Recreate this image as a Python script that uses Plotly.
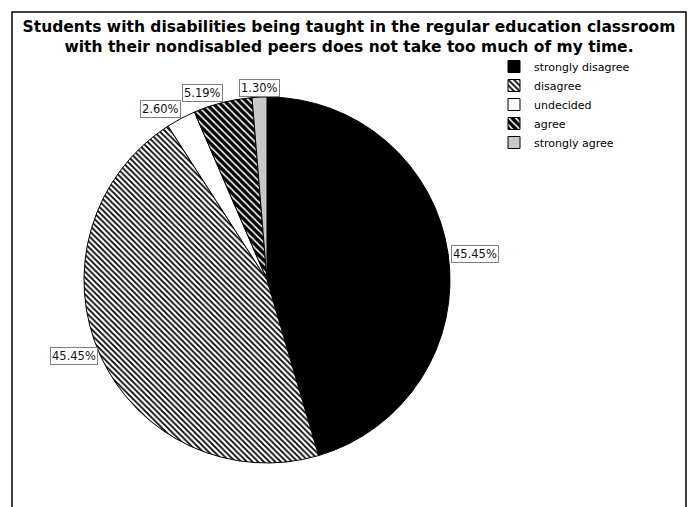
import math
import plotly.graph_objects as go

# Survey responses (percent of respondents)
categories = ["strongly disagree", "disagree", "undecided", "agree", "strongly agree"]
percents = [45.45, 45.45, 2.60, 5.19, 1.30]

title_lines = [
    "Students with disabilities being taught in the regular education classroom",
    "with their nondisabled peers does not take too much of my time.",
]

# Slice styling (fill, hatch)
fill_colors = ["#000000", "#ffffff", "#ffffff", "#000000", "#c8c8c8"]
hatch_shapes = ["", "\\", "", "\\", ""]
hatch_fg = ["#000000", "#000000", "#000000", "#ffffff", "#000000"]
hatch_size = [8, 4, 8, 5, 8]
hatch_solidity = [0.3, 0.45, 0.3, 0.3, 0.3]

# Page geometry (pixels)
W, H = 691, 507
ML, MR, MT, MB = 12, 5, 12, 0
PW, PH = W - ML - MR, H - MT - MB
CX, CY, R = 267, 280, 183  # pie centre and radius
LABEL_GAP = 3


def paper_x(px):
    return (px - ML) / PW


def paper_y(py):
    return (H - MB - py) / PH


fig = go.Figure()
fig.add_trace(go.Pie(
    labels=categories,
    values=percents,
    sort=False,
    direction="clockwise",
    rotation=0,
    textinfo="none",
    hoverinfo="label+percent",
    domain=dict(x=[paper_x(CX - R), paper_x(CX + R)],
                y=[paper_y(CY + R), paper_y(CY - R)]),
    marker=dict(
        colors=fill_colors,
        line=dict(color="#000000", width=1),
        pattern=dict(shape=hatch_shapes, fgcolor=hatch_fg, bgcolor=fill_colors,
                     size=hatch_size, solidity=hatch_solidity, fillmode="replace"),
    ),
))

# Boxed percentage labels at the rim of each slice
total = sum(percents)
cum = 0.0
annotations = []
for val in percents:
    theta = 2 * math.pi * (cum + val / 2) / total
    cum += val
    s, c = math.sin(theta), math.cos(theta)
    xanchor = "left" if s > 0.15 else ("right" if s < -0.15 else "center")
    yanchor = "bottom" if c > 0.5 else ("top" if c < -0.5 else "middle")
    gap = LABEL_GAP if yanchor == "middle" else 0
    ex, ey = CX + (R + gap) * s, CY - R * c
    annotations.append(dict(
        x=paper_x(ex), y=paper_y(ey), xref="paper", yref="paper",
        text=f"{val:.2f}%", showarrow=False,
        xanchor=xanchor, yanchor=yanchor,
        font=dict(family="DejaVu Sans", size=11.5, color="#111111"),
        bgcolor="#ffffff", bordercolor="#808080", borderwidth=1, borderpad=1,
    ))

fig.update_layout(
    width=W, height=H,
    margin=dict(l=ML, r=MR, t=MT, b=MB),
    paper_bgcolor="#ffffff",
    plot_bgcolor="#ffffff",
    title=dict(
        text="<br>".join(title_lines),
        x=0.5, xref="paper", xanchor="center",
        y=1 - 32 / H, yref="container", yanchor="top",
        pad=dict(t=0, b=0),
        font=dict(family="DejaVu Sans", size=15.5, color="#000000", weight="bold"),
    ),
    showlegend=True,
    legend=dict(
        x=paper_x(494), y=paper_y(52), xanchor="left", yanchor="top",
        font=dict(family="DejaVu Sans", size=11, color="#000000"),
        bgcolor="rgba(0,0,0,0)", traceorder="normal",
    ),
    annotations=annotations,
    shapes=[dict(type="rect", xref="paper", yref="paper",
                 x0=0, x1=1, y0=-0.1, y1=1,
                 line=dict(color="#000000", width=1.5))],
)

fig.write_html("out.html")
